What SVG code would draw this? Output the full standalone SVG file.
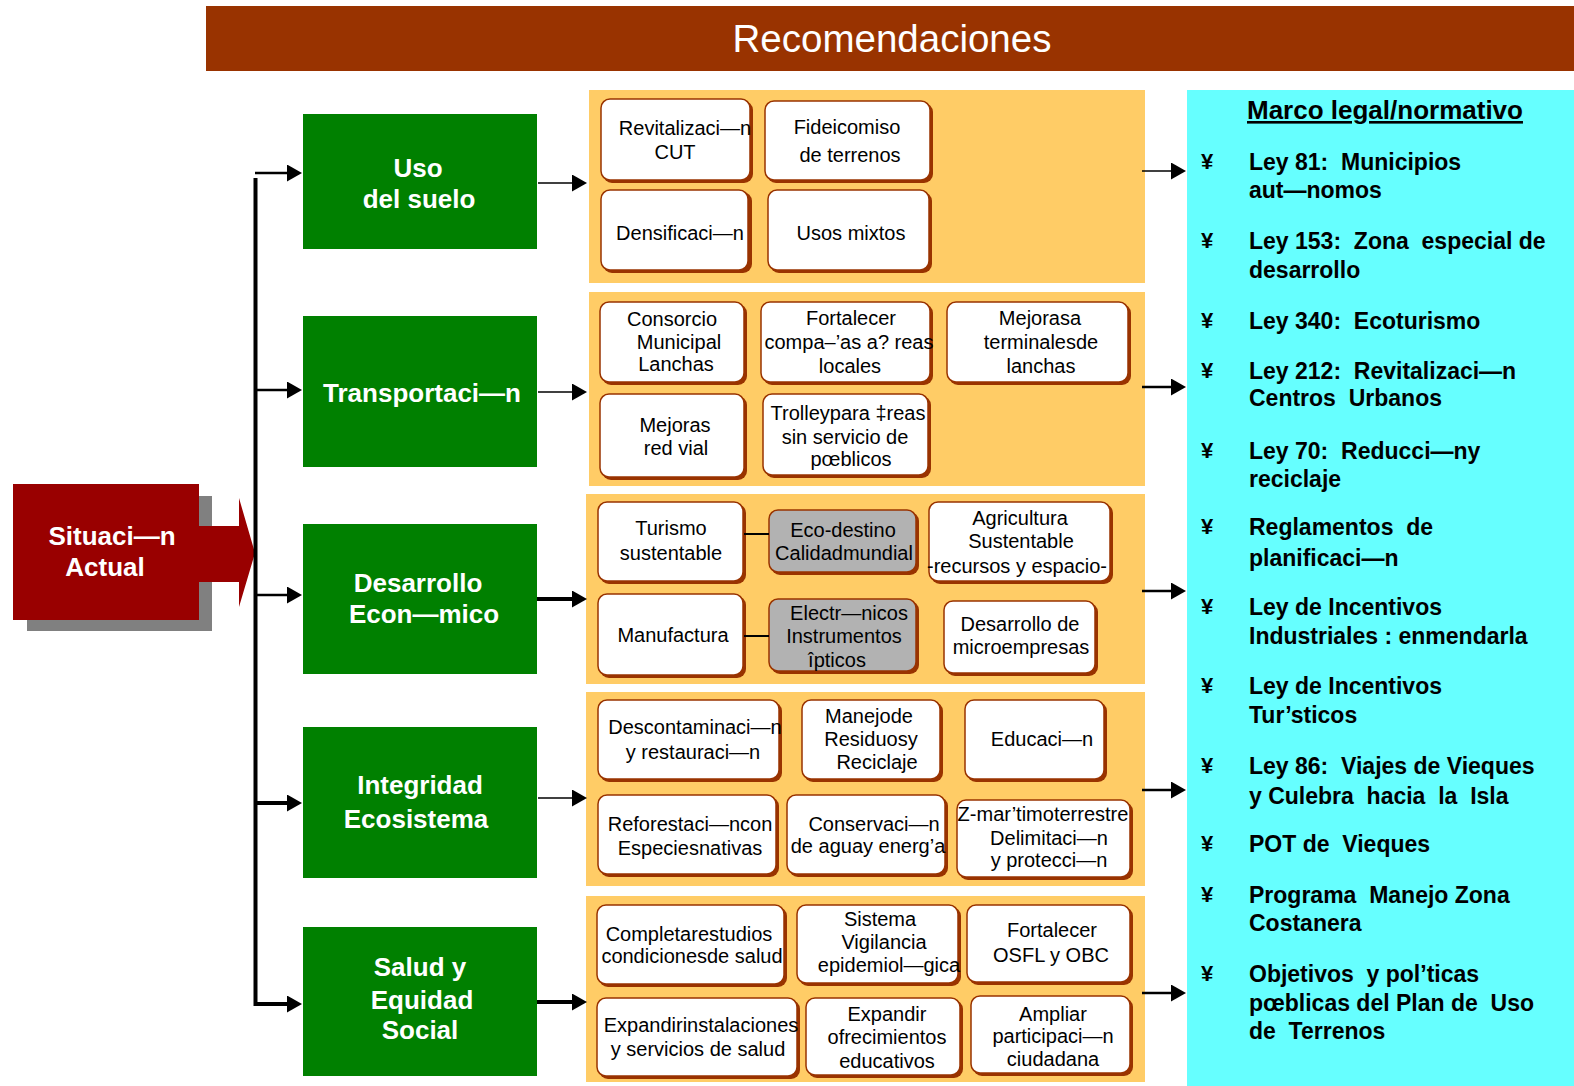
<svg xmlns="http://www.w3.org/2000/svg" width="1574" height="1086" viewBox="0 0 1574 1086">
<style>
text{font-family:"Liberation Sans",Arial,sans-serif;}
.sh{fill:#993300;}
.bx{fill:#fff;stroke:#993300;stroke-width:1.5;}
.gb{fill:#B2B2B2;stroke:#993300;stroke-width:1.5;}
.pn{fill:#FFCC66;}
.grn{fill:#008000;}
.bt{font-size:20px;fill:#000;text-anchor:middle;}
.gt{font-size:26px;font-weight:bold;fill:#fff;text-anchor:middle;}
.lt{font-size:23px;font-weight:bold;fill:#000;white-space:pre;}
.bu{font-size:22px;font-weight:bold;fill:#000;}
.th{stroke:#000;stroke-width:1.5;fill:none;}
.tk{stroke:#000;stroke-width:4;fill:none;}
.md{stroke:#000;stroke-width:2.5;fill:none;}
</style>
<defs>
<marker id="ah" markerUnits="userSpaceOnUse" markerWidth="16" markerHeight="18" refX="1" refY="8.5" orient="auto">
<path d="M0,0 L15,8.5 L0,17 Z" fill="#000"/>
</marker>
</defs>

<g id="title">
<rect x="206" y="6" width="1368" height="65" fill="#993300"/>
<text x="892" y="52" font-size="38.5" fill="#fff" text-anchor="middle">Recomendaciones</text>
</g>

<g id="situacion">
<rect x="27" y="496" width="185" height="135" fill="#808080"/>
<path d="M13,484 H199 V526 H239 V498 L255,553 L239,607 V582 H199 V620 H13 Z" fill="#990000"/>
<text class="gt" x="112" y="545">Situaci—n</text>
<text class="gt" x="105" y="576">Actual</text>
</g>

<g id="panels">
<rect class="pn" x="589" y="90" width="556" height="193"/>
<rect class="pn" x="589" y="292" width="556" height="194"/>
<rect class="pn" x="586" y="494" width="559" height="190"/>
<rect class="pn" x="586" y="692" width="559" height="194"/>
<rect class="pn" x="586" y="896" width="559" height="186"/>
</g>

<g id="marco">
<rect x="1187" y="90" width="387" height="996" fill="#66FFFF"/>
<text x="1247" y="119" font-size="26" font-weight="bold" text-decoration="underline" fill="#000">Marco legal/normativo</text>
<g class="bu">
<text x="1201" y="169">¥</text>
<text x="1201" y="248">¥</text>
<text x="1201" y="328">¥</text>
<text x="1201" y="378">¥</text>
<text x="1201" y="458">¥</text>
<text x="1201" y="534">¥</text>
<text x="1201" y="614">¥</text>
<text x="1201" y="693">¥</text>
<text x="1201" y="773">¥</text>
<text x="1201" y="851">¥</text>
<text x="1201" y="902">¥</text>
<text x="1201" y="981">¥</text>
</g>
<text class="lt" x="1249" y="170">Ley 81:  Municipios</text>
<text class="lt" x="1249" y="198">aut—nomos</text>
<text class="lt" x="1249" y="249">Ley 153:  Zona  especial de</text>
<text class="lt" x="1249" y="278">desarrollo</text>
<text class="lt" x="1249" y="329">Ley 340:  Ecoturismo</text>
<text class="lt" x="1249" y="379">Ley 212:  Revitalizaci—n</text>
<text class="lt" x="1249" y="406">Centros  Urbanos</text>
<text class="lt" x="1249" y="459">Ley 70:  Reducci—ny</text>
<text class="lt" x="1249" y="487">reciclaje</text>
<text class="lt" x="1249" y="535">Reglamentos  de</text>
<text class="lt" x="1249" y="566">planificaci—n</text>
<text class="lt" x="1249" y="615">Ley de Incentivos</text>
<text class="lt" x="1249" y="644">Industriales : enmendarla</text>
<text class="lt" x="1249" y="694">Ley de Incentivos</text>
<text class="lt" x="1249" y="723">Tur’sticos</text>
<text class="lt" x="1249" y="774">Ley 86:  Viajes de Vieques</text>
<text class="lt" x="1249" y="804">y Culebra  hacia  la  Isla</text>
<text class="lt" x="1249" y="852">POT de  Vieques</text>
<text class="lt" x="1249" y="903">Programa  Manejo Zona</text>
<text class="lt" x="1249" y="931">Costanera</text>
<text class="lt" x="1249" y="982">Objetivos  y pol’ticas</text>
<text class="lt" x="1249" y="1011">pœblicas del Plan de  Uso</text>
<text class="lt" x="1249" y="1039">de  Terrenos</text>
</g>

<g id="uso-suelo">
<rect class="grn" x="303" y="114" width="234" height="135"/>
<text class="gt" x="418" y="177">Uso</text>
<text class="gt" x="419" y="208">del suelo</text>
</g>
<g id="transportacion">
<rect class="grn" x="303" y="316" width="234" height="151"/>
<text class="gt" x="422" y="402">Transportaci—n</text>
</g>
<g id="desarrollo">
<rect class="grn" x="303" y="524" width="234" height="150"/>
<text class="gt" x="418" y="592">Desarrollo</text>
<text class="gt" x="424" y="623">Econ—mico</text>
</g>
<g id="integridad">
<rect class="grn" x="303" y="727" width="234" height="151"/>
<text class="gt" x="420" y="794">Integridad</text>
<text class="gt" x="416" y="828">Ecosistema</text>
</g>
<g id="salud">
<rect class="grn" x="303" y="927" width="234" height="149"/>
<text class="gt" x="420" y="976">Salud y</text>
<text class="gt" x="422" y="1009">Equidad</text>
<text class="gt" x="420" y="1039">Social</text>
</g>

<!-- Panel 1 boxes -->
<g id="revitalizacion">
<rect class="sh" x="603" y="101" width="150" height="82" rx="9"/>
<rect class="bx" x="601" y="99" width="149" height="81" rx="9"/>
<text class="bt"><tspan x="685" y="135">Revitalizaci—n</tspan><tspan x="675" y="159">CUT</tspan></text>
</g>
<g id="fideicomiso">
<rect class="sh" x="767" y="103" width="166" height="80" rx="9"/>
<rect class="bx" x="765" y="101" width="165" height="79" rx="9"/>
<text class="bt"><tspan x="847" y="134">Fideicomiso</tspan><tspan x="850" y="162">de terrenos</tspan></text>
</g>
<g id="densificacion">
<rect class="sh" x="603" y="192" width="149" height="81" rx="9"/>
<rect class="bx" x="601" y="190" width="147" height="80" rx="9"/>
<text class="bt" x="680" y="240">Densificaci—n</text>
</g>
<g id="usos-mixtos">
<rect class="sh" x="770" y="192" width="162" height="81" rx="9"/>
<rect class="bx" x="768" y="190" width="161" height="80" rx="9"/>
<text class="bt" x="851" y="240">Usos mixtos</text>
</g>

<!-- Panel 2 boxes -->
<g id="consorcio">
<rect class="sh" x="602" y="304" width="145" height="81" rx="9"/>
<rect class="bx" x="600" y="302" width="144" height="80" rx="9"/>
<text class="bt"><tspan x="672" y="326">Consorcio</tspan><tspan x="679" y="349">Municipal</tspan><tspan x="676" y="371">Lanchas</tspan></text>
</g>
<g id="fortalecer-comp">
<rect class="sh" x="763" y="304" width="170" height="81" rx="9"/>
<rect class="bx" x="761" y="302" width="169" height="80" rx="9"/>
<text class="bt"><tspan x="851" y="325">Fortalecer</tspan><tspan x="849" y="349">compa–’as a? reas</tspan><tspan x="850" y="373">locales</tspan></text>
</g>
<g id="mejoras-terminales">
<rect class="sh" x="949" y="304" width="182" height="81" rx="9"/>
<rect class="bx" x="947" y="302" width="181" height="80" rx="9"/>
<text class="bt"><tspan x="1040" y="325">Mejorasa</tspan><tspan x="1041" y="349">terminalesde</tspan><tspan x="1041" y="373">lanchas</tspan></text>
</g>
<g id="mejoras-red">
<rect class="sh" x="602" y="396" width="145" height="84" rx="9"/>
<rect class="bx" x="600" y="394" width="144" height="83" rx="9"/>
<text class="bt"><tspan x="675" y="432">Mejoras</tspan><tspan x="676" y="455">red vial</tspan></text>
</g>
<g id="trolley">
<rect class="sh" x="765" y="396" width="166" height="82" rx="9"/>
<rect class="bx" x="763" y="394" width="165" height="81" rx="9"/>
<text class="bt"><tspan x="848" y="420">Trolleypara ‡reas</tspan><tspan x="845" y="444">sin servicio de</tspan><tspan x="851" y="466">pœblicos</tspan></text>
</g>

<!-- Panel 3 boxes -->
<g id="turismo">
<rect class="sh" x="600" y="504" width="146" height="80" rx="9"/>
<rect class="bx" x="598" y="502" width="145" height="79" rx="9"/>
<text class="bt"><tspan x="671" y="535">Turismo</tspan><tspan x="671" y="560">sustentable</tspan></text>
</g>
<g id="ecodestino">
<rect class="sh" x="771" y="512" width="148" height="63" rx="9"/>
<rect class="gb" x="769" y="510" width="147" height="62" rx="9"/>
<text class="bt"><tspan x="843" y="537">Eco-destino</tspan><tspan x="844" y="560">Calidadmundial</tspan></text>
</g>
<g id="agricultura">
<rect class="sh" x="931" y="504" width="182" height="80" rx="9"/>
<rect class="bx" x="929" y="502" width="181" height="79" rx="9"/>
<text class="bt"><tspan x="1020" y="525">Agricultura</tspan><tspan x="1021" y="548">Sustentable</tspan><tspan x="1017" y="573">-recursos y espacio-</tspan></text>
</g>
<g id="manufactura">
<rect class="sh" x="600" y="596" width="146" height="82" rx="9"/>
<rect class="bx" x="598" y="594" width="145" height="81" rx="9"/>
<text class="bt" x="673" y="642">Manufactura</text>
</g>
<g id="electronicos">
<rect class="sh" x="771" y="601" width="148" height="73" rx="9"/>
<rect class="gb" x="769" y="599" width="147" height="72" rx="9"/>
<text class="bt"><tspan x="849" y="620">Electr—nicos</tspan><tspan x="844" y="643">Instrumentos</tspan><tspan x="837" y="667">îpticos</tspan></text>
</g>
<g id="microempresas">
<rect class="sh" x="946" y="603" width="152" height="73" rx="9"/>
<rect class="bx" x="944" y="601" width="151" height="72" rx="9"/>
<text class="bt"><tspan x="1020" y="631">Desarrollo de</tspan><tspan x="1021" y="654">microempresas</tspan></text>
</g>

<!-- Panel 4 boxes -->
<g id="descontaminacion">
<rect class="sh" x="600" y="702" width="182" height="80" rx="9"/>
<rect class="bx" x="598" y="700" width="181" height="79" rx="9"/>
<text class="bt"><tspan x="695" y="734">Descontaminaci—n</tspan><tspan x="693" y="759">y restauraci—n</tspan></text>
</g>
<g id="manejo-residuos">
<rect class="sh" x="804" y="702" width="139" height="80" rx="9"/>
<rect class="bx" x="802" y="700" width="138" height="79" rx="9"/>
<text class="bt"><tspan x="869" y="723">Manejode</tspan><tspan x="871" y="746">Residuosy</tspan><tspan x="877" y="769">Reciclaje</tspan></text>
</g>
<g id="educacion">
<rect class="sh" x="967" y="702" width="140" height="80" rx="9"/>
<rect class="bx" x="965" y="700" width="139" height="79" rx="9"/>
<text class="bt" x="1042" y="746">Educaci—n</text>
</g>
<g id="reforestacion">
<rect class="sh" x="600" y="797" width="179" height="80" rx="9"/>
<rect class="bx" x="598" y="795" width="178" height="79" rx="9"/>
<text class="bt"><tspan x="690" y="831">Reforestaci—ncon</tspan><tspan x="690" y="855">Especiesnativas</tspan></text>
</g>
<g id="conservacion">
<rect class="sh" x="789" y="797" width="159" height="80" rx="9"/>
<rect class="bx" x="787" y="795" width="158" height="79" rx="9"/>
<text class="bt"><tspan x="874" y="831">Conservaci—n</tspan><tspan x="868" y="853">de aguay energ’a</tspan></text>
</g>
<g id="zona-maritimo">
<rect class="sh" x="959" y="802" width="174" height="78" rx="9"/>
<rect class="bx" x="957" y="800" width="173" height="77" rx="9"/>
<text class="bt"><tspan x="1043" y="821">Z-mar’timoterrestre</tspan><tspan x="1049" y="845">Delimitaci—n</tspan><tspan x="1049" y="867">y protecci—n</tspan></text>
</g>

<!-- Panel 5 boxes -->
<g id="completar">
<rect class="sh" x="599" y="907" width="188" height="80" rx="9"/>
<rect class="bx" x="597" y="905" width="187" height="79" rx="9"/>
<text class="bt"><tspan x="689" y="941">Completarestudios</tspan><tspan x="692" y="963">condicionesde salud</tspan></text>
</g>
<g id="vigilancia">
<rect class="sh" x="799" y="907" width="162" height="79" rx="9"/>
<rect class="bx" x="797" y="905" width="161" height="78" rx="9"/>
<text class="bt"><tspan x="880" y="926">Sistema</tspan><tspan x="884" y="949">Vigilancia</tspan><tspan x="889" y="972">epidemiol—gica</tspan></text>
</g>
<g id="osfl">
<rect class="sh" x="969" y="907" width="164" height="78" rx="9"/>
<rect class="bx" x="967" y="905" width="163" height="77" rx="9"/>
<text class="bt"><tspan x="1052" y="937">Fortalecer</tspan><tspan x="1051" y="962">OSFL y OBC</tspan></text>
</g>
<g id="expandir-inst">
<rect class="sh" x="599" y="1000" width="201" height="79" rx="9"/>
<rect class="bx" x="597" y="998" width="200" height="78" rx="9"/>
<text class="bt"><tspan x="701" y="1032">Expandirinstalaciones</tspan><tspan x="698" y="1056">y servicios de salud</tspan></text>
</g>
<g id="expandir-ofrec">
<rect class="sh" x="808" y="1000" width="155" height="78" rx="9"/>
<rect class="bx" x="806" y="998" width="154" height="77" rx="9"/>
<text class="bt"><tspan x="887" y="1021">Expandir</tspan><tspan x="887" y="1044">ofrecimientos</tspan><tspan x="887" y="1068">educativos</tspan></text>
</g>
<g id="ampliar">
<rect class="sh" x="973" y="998" width="160" height="78" rx="9"/>
<rect class="bx" x="971" y="996" width="159" height="77" rx="9"/>
<text class="bt"><tspan x="1053" y="1021">Ampliar</tspan><tspan x="1053" y="1043">participaci—n</tspan><tspan x="1053" y="1066">ciudadana</tspan></text>
</g>

<g id="connectors">
<path class="tk" d="M255.5,178 V1004 H288" marker-end="url(#ah)"/>
<line class="md" x1="255" y1="173" x2="288" y2="173" marker-end="url(#ah)"/>
<line class="md" x1="256" y1="390" x2="288" y2="390" marker-end="url(#ah)"/>
<line class="md" x1="256" y1="595" x2="288" y2="595" marker-end="url(#ah)"/>
<line class="tk" x1="256" y1="803" x2="288" y2="803" marker-end="url(#ah)"/>
<line class="th" x1="538" y1="183" x2="573" y2="183" marker-end="url(#ah)"/>
<line class="th" x1="538" y1="392" x2="573" y2="392" marker-end="url(#ah)"/>
<line class="tk" x1="537" y1="599" x2="573" y2="599" marker-end="url(#ah)"/>
<line class="th" x1="538" y1="798" x2="573" y2="798" marker-end="url(#ah)"/>
<line class="tk" x1="537" y1="1002" x2="573" y2="1002" marker-end="url(#ah)"/>
<line class="th" x1="1142" y1="171" x2="1172" y2="171" marker-end="url(#ah)"/>
<line class="md" x1="1142" y1="387" x2="1172" y2="387" marker-end="url(#ah)"/>
<line class="md" x1="1142" y1="591" x2="1172" y2="591" marker-end="url(#ah)"/>
<line class="md" x1="1142" y1="790" x2="1172" y2="790" marker-end="url(#ah)"/>
<line class="md" x1="1142" y1="993" x2="1172" y2="993" marker-end="url(#ah)"/>
<line x1="744" y1="534" x2="769" y2="534" stroke="#000" stroke-width="2"/>
<line x1="744" y1="636" x2="769" y2="636" stroke="#000" stroke-width="2"/>
</g>
</svg>
